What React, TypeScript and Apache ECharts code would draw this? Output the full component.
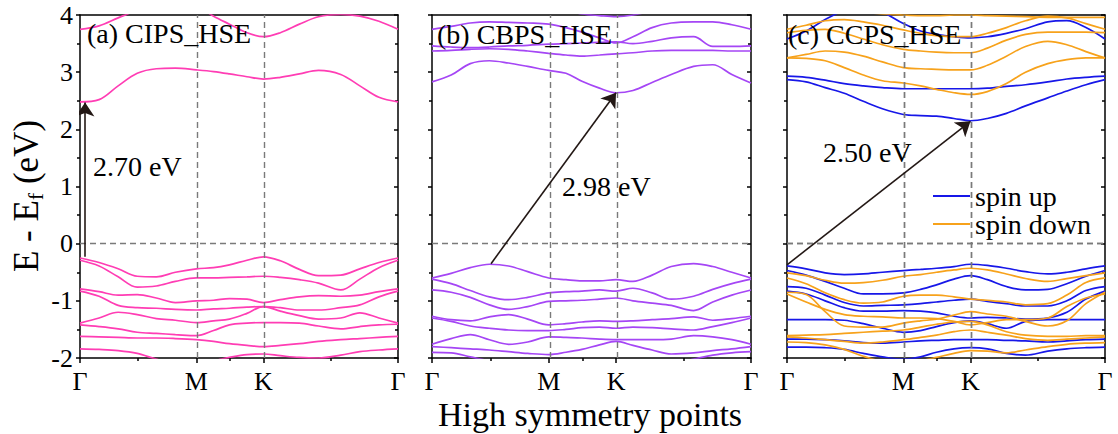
import React, { useEffect, useRef } from "react";
import * as echarts from "echarts";

// ---- k-path (fraction of Γ–M–K–Γ path length) ----
const kM = 0.366;
const kK = 0.577;
const kGrid = [0, 0.06, 0.12, 0.18, 0.24, 0.3, 0.366, 0.42, 0.47, 0.525, 0.577, 0.63, 0.69, 0.75, 0.82, 0.88, 0.94, 1];
const kTicks = [0, kM, kK, 1];
const kTickLabels = ["Γ", "M", "K", "Γ"];
const kMinorTicks = [kM / 2, (kM + kK) / 2, (kK + 1) / 2];
const yTicks = ["-2", "-1", "0", "1", "2", "3", "4"];

// ---- (a) CIPS_HSE ----
const cipsBands: number[][] = [
  [3.75, 3.81, 3.95, 4.08, 4.15, 4.18, 4.15, 3.98, 3.84, 3.69, 3.62, 3.69, 3.84, 3.97, 4.01, 3.98, 3.89, 3.75],
  [2.48, 2.52, 2.76, 2.98, 3.06, 3.07, 3.04, 3.01, 2.97, 2.92, 2.88, 2.91, 2.97, 3.03, 2.96, 2.76, 2.56, 2.48],
  [-0.25, -0.33, -0.44, -0.57, -0.58, -0.5, -0.44, -0.42, -0.37, -0.29, -0.23, -0.3, -0.45, -0.56, -0.55, -0.44, -0.33, -0.25],
  [-0.29, -0.39, -0.58, -0.76, -0.74, -0.66, -0.6, -0.6, -0.59, -0.58, -0.57, -0.59, -0.63, -0.69, -0.81, -0.62, -0.42, -0.29],
  [-0.79, -0.84, -0.9, -0.89, -0.95, -1.03, -1.0, -0.99, -0.96, -0.97, -1.03, -0.98, -0.93, -0.91, -0.92, -0.9, -0.84, -0.79],
  [-0.83, -0.92, -1.08, -1.12, -1.13, -1.15, -1.16, -1.14, -1.13, -1.11, -1.1, -1.12, -1.16, -1.16, -1.12, -1.07, -0.93, -0.83],
  [-1.39, -1.3, -1.2, -1.24, -1.31, -1.34, -1.38, -1.35, -1.32, -1.22, -1.1, -1.18, -1.26, -1.32, -1.3, -1.21, -1.3, -1.39],
  [-1.42, -1.45, -1.49, -1.55, -1.57, -1.59, -1.61, -1.52, -1.42, -1.39, -1.38, -1.38, -1.39, -1.44, -1.49, -1.45, -1.42, -1.41],
  [-1.62, -1.63, -1.64, -1.65, -1.65, -1.66, -1.68, -1.71, -1.75, -1.78, -1.8, -1.78, -1.75, -1.71, -1.68, -1.66, -1.64, -1.62],
  [-1.84, -1.85, -1.87, -1.92, -2.02, -2.1, -2.1, -2.05, -1.99, -1.94, -1.93, -1.96, -1.99, -2.0, -1.95, -1.89, -1.86, -1.84],
];

// ---- (b) CBPS_HSE ----
const cbpsBands: number[][] = [
  [4.3, 4.3, 4.3, 4.3, 4.3, 4.25, 4.15, 4.08, 4.02, 3.99, 3.97, 4.0, 4.08, 4.2, 4.3, 4.3, 4.3, 4.3],
  [3.75, 3.8, 3.86, 3.88, 3.87, 3.86, 3.84, 3.78, 3.7, 3.6, 3.51, 3.62, 3.78, 3.86, 3.88, 3.88, 3.83, 3.75],
  [3.46, 3.44, 3.43, 3.44, 3.46, 3.47, 3.49, 3.5, 3.51, 3.52, 3.53, 3.5, 3.54, 3.6, 3.62, 3.45, 3.45, 3.46],
  [3.37, 3.38, 3.4, 3.41, 3.4, 3.37, 3.33, 3.3, 3.28, 3.3, 3.32, 3.34, 3.37, 3.38, 3.38, 3.38, 3.37, 3.37],
  [2.83, 2.95, 3.15, 3.2, 3.16, 3.1, 3.03, 2.98, 2.84, 2.72, 2.64, 2.68, 2.82, 2.96, 3.1, 3.13, 2.96, 2.81],
  [-0.6, -0.52, -0.42, -0.36, -0.39, -0.49, -0.6, -0.63, -0.65, -0.65, -0.63, -0.66, -0.55, -0.4, -0.35, -0.4, -0.5, -0.6],
  [-0.62, -0.7, -0.82, -0.93, -0.98, -0.94, -0.86, -0.84, -0.83, -0.81, -0.83, -0.78, -0.86, -0.97, -0.92, -0.8, -0.7, -0.62],
  [-0.81, -0.85, -0.94, -1.07, -1.15, -1.1, -1.01, -1.0, -0.99, -0.97, -0.95, -1.0, -1.04, -1.08, -1.17, -1.02, -0.9, -0.81],
  [-1.27, -1.33, -1.35, -1.28, -1.24, -1.32, -1.42, -1.4, -1.37, -1.35, -1.36, -1.35, -1.33, -1.31, -1.28, -1.34, -1.31, -1.27],
  [-1.3, -1.36, -1.44, -1.48, -1.51, -1.52, -1.52, -1.5, -1.47, -1.46, -1.48, -1.46, -1.47, -1.49, -1.51, -1.45, -1.38, -1.3],
  [-1.76, -1.66, -1.59, -1.68, -1.76, -1.72, -1.63, -1.64, -1.65, -1.67, -1.68, -1.68, -1.68, -1.67, -1.61, -1.63, -1.68, -1.76],
  [-1.8, -1.82, -1.84, -1.86, -1.89, -1.92, -1.94, -1.9, -1.85, -1.77, -1.71, -1.78, -1.86, -1.93, -1.91, -1.87, -1.84, -1.8],
  [-1.9, -1.91, -1.98, -2.05, -2.1, -2.1, -2.1, -2.1, -2.1, -2.1, -2.1, -2.1, -2.1, -2.1, -2.02, -1.95, -1.91, -1.89],
];

// ---- (c) CCPS_HSE, spin up ----
const ccpsUpBands: number[][] = [
  [3.58, 3.72, 3.92, 4.08, 4.15, 4.05, 3.85, 3.72, 3.66, 3.62, 3.6, 3.62, 3.68, 3.76, 3.88, 3.9, 3.78, 3.58],
  [2.93, 2.91, 2.86, 2.8, 2.76, 2.73, 2.71, 2.71, 2.71, 2.71, 2.71, 2.72, 2.75, 2.78, 2.83, 2.88, 2.91, 2.93],
  [2.87, 2.83, 2.73, 2.63, 2.49, 2.36, 2.26, 2.24, 2.23, 2.19, 2.15, 2.19, 2.28, 2.41, 2.55, 2.67, 2.78, 2.87],
  [-0.39, -0.44, -0.51, -0.54, -0.53, -0.5, -0.47, -0.45, -0.43, -0.4, -0.36, -0.38, -0.43, -0.49, -0.53, -0.5, -0.44, -0.39],
  [-0.47, -0.55, -0.66, -0.78, -0.88, -0.88, -0.86, -0.8, -0.72, -0.62, -0.56, -0.63, -0.75, -0.81, -0.8, -0.7, -0.57, -0.47],
  [-0.75, -0.78, -0.9, -1.03, -1.09, -1.08, -1.07, -1.05, -1.02, -0.99, -0.97, -1.01, -1.05, -1.09, -1.09, -1.0, -0.82, -0.75],
  [-0.83, -0.88, -1.0, -1.12, -1.18, -1.18, -1.17, -1.18, -1.21, -1.27, -1.3, -1.29, -1.3, -1.32, -1.3, -1.2, -0.97, -0.83],
  [-1.33, -1.33, -1.33, -1.34, -1.4, -1.48, -1.55, -1.52, -1.45, -1.38, -1.35, -1.4, -1.48, -1.36, -1.33, -1.33, -1.33, -1.33],
  [-1.67, -1.67, -1.68, -1.7, -1.73, -1.74, -1.72, -1.7, -1.69, -1.68, -1.68, -1.68, -1.69, -1.7, -1.72, -1.7, -1.68, -1.67],
  [-1.81, -1.81, -1.82, -1.85, -1.92, -1.98, -2.02, -1.98, -1.9, -1.84, -1.82, -1.84, -1.92, -1.95, -1.88, -1.84, -1.82, -1.81],
];

// ---- (c) CCPS_HSE, spin down ----
const ccpsDownBands: number[][] = [
  [4.1, 4.1, 4.1, 4.1, 4.05, 4.02, 4.0, 3.99, 3.99, 4.0, 4.0, 3.99, 3.98, 3.97, 3.96, 3.96, 3.96, 3.96],
  [3.75, 3.82, 3.9, 3.92, 3.88, 3.82, 3.74, 3.68, 3.64, 3.62, 3.62, 3.68, 3.78, 3.9, 3.98, 3.95, 3.85, 3.75],
  [3.69, 3.73, 3.75, 3.68, 3.58, 3.48, 3.4, 3.37, 3.35, 3.34, 3.34, 3.42, 3.56, 3.66, 3.7, 3.7, 3.7, 3.69],
  [3.25, 3.31, 3.37, 3.35, 3.28, 3.18, 3.08, 3.06, 3.05, 3.04, 3.04, 3.12, 3.28, 3.45, 3.54, 3.48, 3.36, 3.25],
  [3.25, 3.24, 3.2, 3.08, 2.95, 2.85, 2.81, 2.76, 2.7, 2.64, 2.61, 2.66, 2.8, 3.0, 3.15, 3.22, 3.25, 3.25],
  [-0.51, -0.56, -0.64, -0.69, -0.68, -0.64, -0.57, -0.54, -0.5, -0.46, -0.43, -0.46, -0.53, -0.61, -0.66, -0.61, -0.56, -0.51],
  [-0.6, -0.7, -0.86, -0.98, -1.04, -1.02, -0.92, -0.9, -0.9, -0.93, -0.97, -0.99, -1.02, -1.07, -1.05, -0.9, -0.68, -0.6],
  [-0.85, -0.89, -1.19, -1.44, -1.46, -1.46, -1.39, -1.35, -1.32, -1.25, -1.19, -1.23, -1.27, -1.36, -1.44, -1.35, -1.05, -0.85],
  [-0.88, -1.02, -1.15, -1.24, -1.27, -1.28, -1.3, -1.3, -1.31, -1.36, -1.42, -1.38, -1.33, -1.33, -1.3, -1.1, -0.95, -0.88],
  [-1.61, -1.6, -1.59, -1.57, -1.55, -1.53, -1.51, -1.46, -1.41, -1.37, -1.36, -1.42, -1.54, -1.6, -1.62, -1.62, -1.61, -1.61],
  [-1.63, -1.65, -1.68, -1.71, -1.74, -1.72, -1.68, -1.64, -1.6, -1.54, -1.51, -1.55, -1.6, -1.66, -1.69, -1.67, -1.65, -1.63],
  [-1.72, -1.73, -1.77, -1.85, -1.97, -2.06, -2.1, -2.05, -1.99, -1.92, -1.87, -1.88, -1.91, -1.86, -1.8, -1.76, -1.74, -1.73],
];

// ---- gap arrows: [k, E] from VBM to CBM ----
const arrowA = [[0.016, -0.23], [0.016, 2.47]];
const arrowB = [[0.185, -0.35], [0.577, 2.64]];
const arrowC = [[0.0, -0.37], [0.577, 2.14]];

const panelTitles = ["(a) CIPS_HSE", "(b) CBPS_HSE", "(c) CCPS_HSE"];
const gapLabels = ["2.70 eV", "2.98 eV", "2.50 eV"];
const legendNames = ["spin up", "spin down"];
const xTitle = "High symmetry points";

const FONT = "Liberation Serif";
const PINK = "#FF3DB4";
const PURPLE = "#A546F5";
const BLUE = "#1717E8";
const ORANGE = "#F7A21B";
const ARROW = "#231815";
const AXIS = "#000";

export default function App() {
  const ref = useRef<HTMLDivElement>(null);

  useEffect(() => {
    if (!ref.current) return;
    const chart = echarts.init(ref.current, null, { renderer: "svg" });

    const grids = [
      { left: 80, width: 318, top: 15, height: 343, outerBoundsMode: "none", containLabel: false },
      { left: 432, width: 319, top: 15, height: 343, outerBoundsMode: "none", containLabel: false },
      { left: 787, width: 318, top: 15, height: 343, outerBoundsMode: "none", containLabel: false },
    ];
    const lineStyle = { color: AXIS, width: 1.5 };
    const xAxes: any[] = [];
    const yAxes: any[] = [];
    grids.forEach((_, i) => {
      xAxes.push({
        gridIndex: i,
        type: "value",
        min: 0,
        max: 1,
        position: "bottom",
        axisLine: { show: true, onZero: false, lineStyle },
        axisTick: { show: true, customValues: kTicks, length: 5, lineStyle },
        axisLabel: {
          show: true,
          customValues: kTicks,
          formatter: (v: number) => {
            const idx = kTicks.findIndex((t) => Math.abs(t - v) < 1e-6);
            return idx >= 0 ? kTickLabels[idx] : "";
          },
          fontFamily: FONT,
          fontSize: 26,
          lineHeight: 24,
          color: "#000",
          margin: 11,
        },
        splitLine: { show: false },
      });
      xAxes.push({
        gridIndex: i,
        type: "value",
        min: 0,
        max: 1,
        position: "bottom",
        axisLine: { show: false, onZero: false },
        axisTick: { show: true, customValues: kMinorTicks, length: 3, lineStyle },
        axisLabel: { show: false },
        splitLine: { show: false },
      });
      xAxes.push({
        gridIndex: i,
        type: "value",
        min: 0,
        max: 1,
        position: "top",
        axisLine: { show: true, onZero: false, lineStyle },
        axisTick: { show: false },
        axisLabel: { show: false },
        splitLine: { show: false },
      });
      yAxes.push({
        gridIndex: i,
        type: "value",
        min: -2,
        max: 4,
        interval: 1,
        position: "left",
        axisLine: { show: true, onZero: false, lineStyle },
        axisTick: { show: true, length: 4, inside: false, lineStyle },
        minorTick: { show: true, splitNumber: 2, length: 3, lineStyle },
        axisLabel: {
          show: i === 0,
          formatter: (v: number) => yTicks[Math.round(v) + 2] ?? "",
          fontFamily: FONT,
          fontSize: 26,
          color: "#000",
          margin: 7,
        },
        splitLine: { show: false },
      });
      yAxes.push({
        gridIndex: i,
        type: "value",
        min: -2,
        max: 4,
        interval: 1,
        position: "right",
        axisLine: { show: true, onZero: false, lineStyle },
        axisTick: { show: true, length: 4, inside: true, lineStyle },
        minorTick: { show: true, splitNumber: 2, length: 3, lineStyle },
        axisLabel: { show: false },
        splitLine: { show: false },
      });
    });

    const guide = {
      silent: true,
      symbol: "none",
      label: { show: false },
      lineStyle: { type: [6, 4], color: "#7a7a7a", width: 1.4 },
      data: [{ xAxis: kM }, { xAxis: kK }, { yAxis: 0 }],
    };

    const bandSeries = (bands: number[][], color: string, name: string, g: number) =>
      bands.map((b, bi) => ({
        type: "line",
        name,
        xAxisIndex: 3 * g,
        yAxisIndex: 2 * g,
        data: kGrid.map((k, j) => [k, b[j]]),
        smooth: 0.35,
        showSymbol: false,
        symbol: "none",
        silent: true,
        lineStyle: { color, width: 1.7 },
        itemStyle: { color },
        z: 3,
        ...(bi === 0 ? { markLine: guide } : {}),
      }));

    const arrowSeries = (coords: number[][], g: number) => ({
      type: "lines",
      coordinateSystem: "cartesian2d",
      xAxisIndex: 3 * g,
      yAxisIndex: 2 * g,
      symbol: ["none", "arrow"],
      symbolSize: 14,
      silent: true,
      z: 5,
      lineStyle: { color: ARROW, width: 1.6, opacity: 1, curveness: 0 },
      data: [{ coords }],
    });

    const series: any[] = [
      ...bandSeries(cipsBands, PINK, "CIPS", 0),
      ...bandSeries(cbpsBands, PURPLE, "CBPS", 1),
      ...bandSeries(ccpsUpBands, BLUE, legendNames[0], 2),
      ...bandSeries(ccpsDownBands, ORANGE, legendNames[1], 2),
      arrowSeries(arrowA, 0),
      arrowSeries(arrowB, 1),
      arrowSeries(arrowC, 2),
    ];

    const txt = (text: string, x: number, y: number, size = 28, align = "left", lineHeight?: number) => ({
      type: "text",
      x,
      y,
      z: 10,
      silent: true,
      style: {
        text,
        fontFamily: FONT,
        fontSize: size,
        fill: "#000",
        align,
        verticalAlign: "middle",
        ...(lineHeight ? { lineHeight } : {}),
      },
    });

    chart.setOption({
      animation: false,
      backgroundColor: "#fff",
      grid: grids,
      xAxis: xAxes,
      yAxis: yAxes,
      series,
      legend: {
        show: true,
        data: legendNames,
        orient: "vertical",
        left: 928,
        top: 177,
        itemWidth: 37,
        itemHeight: 2,
        itemGap: 0,
        icon: "rect",
        selectedMode: false,
        textStyle: { fontFamily: FONT, fontSize: 28, color: "#000" },
      },
      graphic: [
        txt(panelTitles[0], 87, 33),
        txt(panelTitles[1], 437, 34),
        txt(panelTitles[2], 788, 34),
        txt(gapLabels[0], 93, 166),
        txt(gapLabels[1], 562, 186),
        txt(gapLabels[2], 823, 152),
        txt(xTitle, 590, 414, 34, "center", 24),
        {
          type: "text",
          x: 26,
          y: 196,
          rotation: Math.PI / 2,
          silent: true,
          style: {
            text: "{m|E - E}{s|f}{m| (eV)}",
            fontFamily: FONT,
            fill: "#000",
            align: "center",
            verticalAlign: "middle",
            rich: {
              m: { fontFamily: FONT, fontSize: 35, lineHeight: 40, verticalAlign: "middle" },
              s: { fontFamily: FONT, fontSize: 22, lineHeight: 40, verticalAlign: "bottom" },
            },
          },
        },
      ],
    });

    return () => chart.dispose();
  }, []);

  return <div ref={ref} style={{ position: "fixed", left: 0, top: 0, width: 1118, height: 434 }} />;
}
